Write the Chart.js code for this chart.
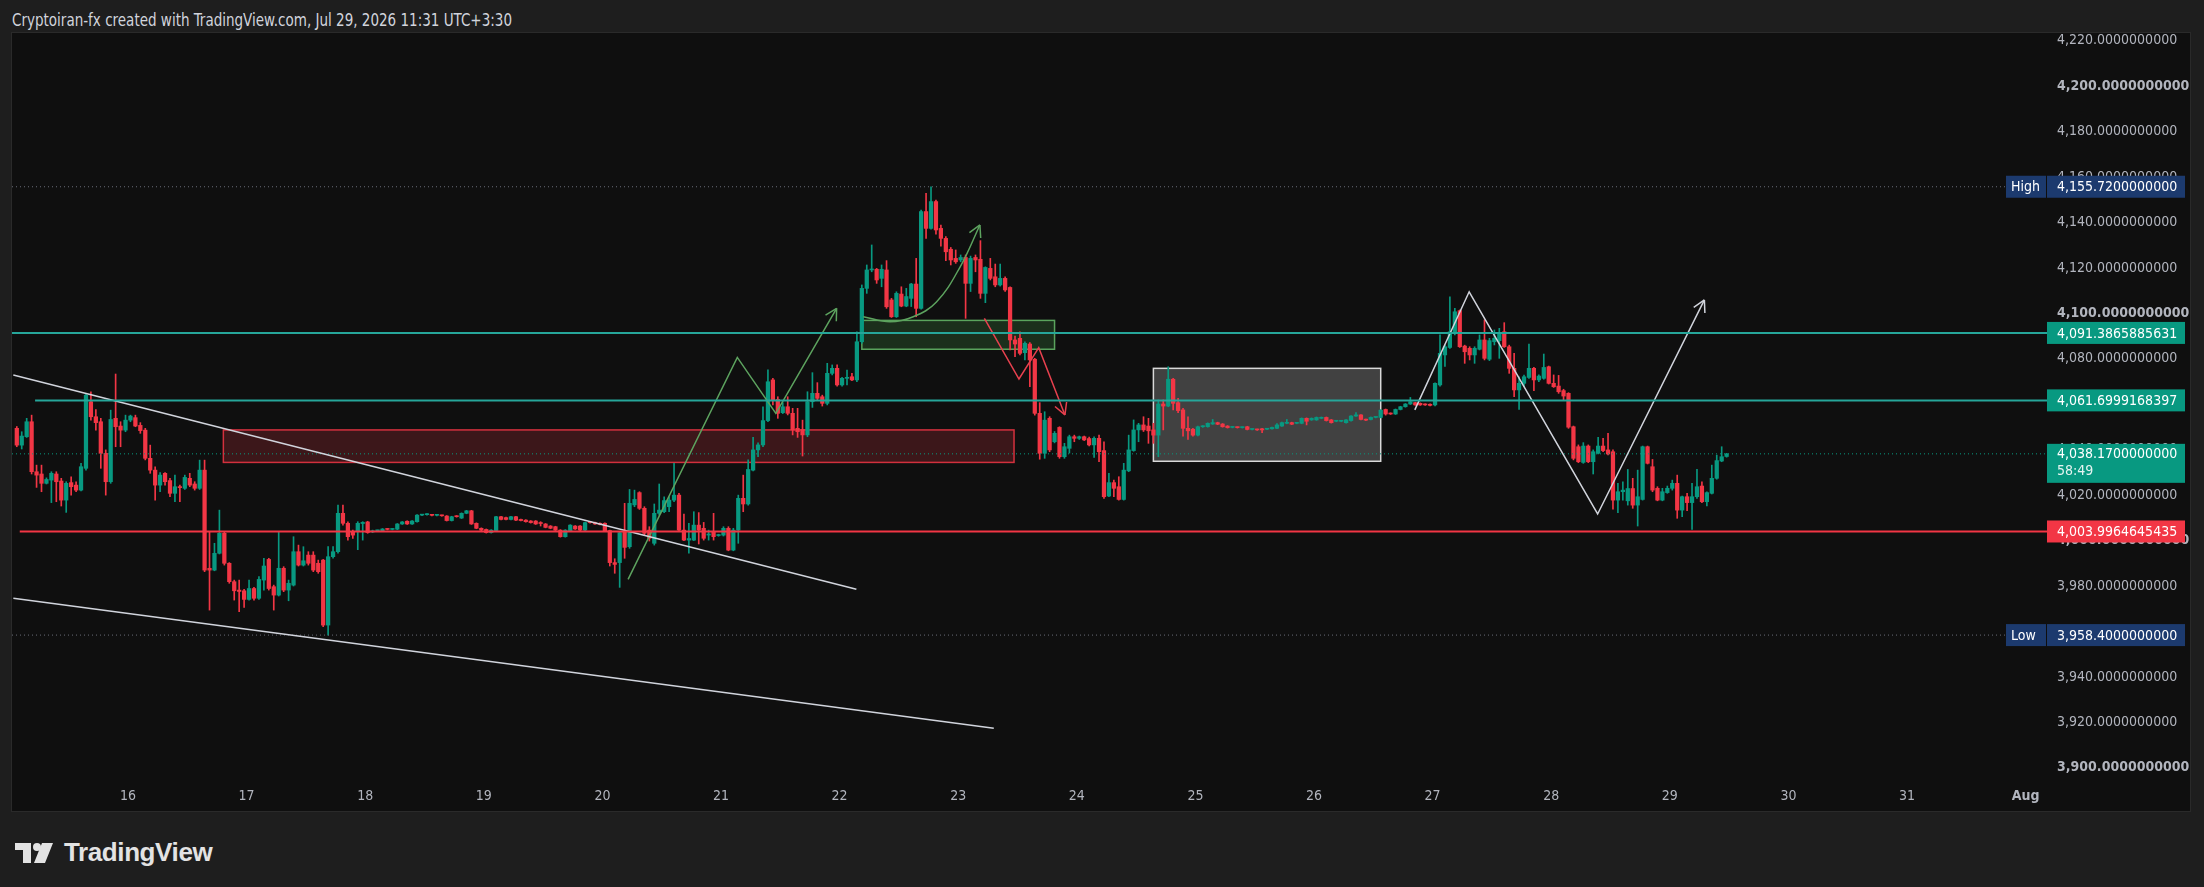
<!DOCTYPE html>
<html>
<head>
<meta charset="utf-8">
<script src="https://cdn.jsdelivr.net/npm/chart.js@4.4.1/dist/chart.umd.min.js"></script>
<style>
html, body { margin: 0; padding: 0; width: 2204px; height: 887px; overflow: hidden; background: #1e1e1e; }
#header { position: absolute; left: 12px; top: 9px; font: 17px "DejaVu Sans Condensed", "Liberation Sans", sans-serif; line-height: 22px; color: #d1d4dc; white-space: nowrap; transform-origin: 0 50%; }
#panel { position: absolute; left: 11px; top: 32px; width: 2178px; height: 778px; border: 1px solid #2a2a2a; background: #0f0f0f; }
#chart { display: block; width: 2178px; height: 778px; }
#logo { position: absolute; left: 15px; top: 837px; display: flex; align-items: center; color: #e3e3e3; font: bold 26px "Liberation Sans", sans-serif; letter-spacing: -0.4px; }
#logo svg { margin-right: 11px; }
</style>
</head>
<body>
<div id="header">Cryptoiran-fx created with TradingView.com, Jul 29, 2026 11:31 UTC+3:30</div>
<div id="panel"><canvas id="chart" width="2178" height="778"></canvas></div>
<div id="logo">
  <svg width="38" height="20" viewBox="0 0 38 20"><path d="M0 0H16V20H8V7H0Z" fill="#e3e3e3"/><circle cx="22" cy="4" r="4" fill="#e3e3e3"/><path d="M27 0H38L30 20H19Z" fill="#e3e3e3"/></svg>
  <span>TradingView</span>
</div>
<script>
// hourly candles, the first one opens Jul 15 01:30 (hours counted from Jul 16 00:00)
const firstCandleHour = -22.5

const opens = [
  4049.4,4042.0,4045.7,4052.3,4030.3,4029.3,4025.2,4026.6,4029.3,4026.2,
  4017.8,4025.5,4024.4,4022.2,4031.8,4061.1,4054.5,4052.3,4038.4,4025.9,
  4053.8,4050.4,4048.6,4053.0,4054.1,4050.7,4048.6,4036.2,4031.0,4024.4,
  4029.6,4026.4,4020.8,4023.7,4023.0,4027.4,4024.9,4023.0,4031.0,3987.8,
  3987.0,3994.4,4003.2,3990.0,3981.9,3978.2,3977.9,3974.1,3978.9,3974.6,
  3982.6,3991.7,3979.7,3976.0,3987.8,3978.2,3980.4,3995.1,3989.2,3993.6,
  3993.6,3990.0,3991.4,3962.8,3992.9,3995.1,4012.0,4007.6,4003.9,4003.9,
  4007.5,4008.2,4003.8,4004.3,4004.3,4005.1,4004.9,4005.0,4007.3,4008.5,
  4007.3,4008.3,4011.2,4011.4,4011.4,4011.1,4011.0,4010.8,4008.8,4010.8,
  4009.9,4012.0,4013.1,4007.6,4005.4,4004.9,4003.5,4004.4,4010.5,4010.1,
  4009.3,4010.5,4009.3,4009.0,4008.6,4008.6,4007.6,4007.3,4006.4,4006.1,
  4004.6,4001.7,4004.3,4006.4,4006.4,4004.6,4008.3,4007.9,4007.6,4007.6,
  4004.4,3990.3,3990.3,4003.9,3997.3,4015.7,4021.1,4014.2,4004.6,3998.8,
  4012.0,4012.7,4014.9,4017.8,4020.0,4004.6,4000.2,4000.2,4006.8,4005.4,
  4002.4,4003.9,4002.2,4002.4,4005.4,3995.8,4004.6,4018.6,4016.1,4031.0,
  4039.9,4042.1,4052.8,4070.7,4062.1,4056.3,4058.9,4056.0,4049.4,4048.9,
  4046.5,4061.1,4064.8,4063.3,4060.4,4073.6,4075.8,4068.5,4071.4,4072.1,
  4070.7,4087.5,4111.0,4119.1,4119.4,4115.4,4119.1,4105.9,4098.5,4108.5,
  4103.2,4106.6,4112.9,4102.2,4144.8,4137.4,4149.2,4137.4,4133.0,4128.2,
  4124.2,4123.5,4124.6,4113.2,4124.6,4123.8,4108.8,4119.8,4116.1,4112.5,
  4115.4,4111.4,4088.3,4089.0,4082.7,4086.5,4079.8,4056.0,4038.4,4053.8,
  4043.5,4049.8,4036.9,4040.6,4045.7,4045.0,4045.7,4044.9,4042.1,4045.0,
  4039.6,4019.6,4025.5,4023.7,4018.1,4030.7,4039.6,4048.7,4050.9,4050.4,
  4048.7,4046.4,4060.1,4059.2,4071.0,4060.7,4057.5,4049.4,4049.0,4046.4,
  4050.1,4050.1,4051.3,4051.9,4051.3,4050.4,4049.8,4049.8,4049.7,4050.1,
  4048.9,4048.9,4049.2,4049.0,4049.2,4049.4,4050.4,4051.6,4051.9,4051.6,
  4051.6,4053.8,4053.1,4053.1,4053.8,4054.2,4053.1,4052.5,4052.5,4051.9,
  4052.8,4054.8,4055.3,4053.3,4053.3,4054.2,4054.2,4057.7,4056.0,4055.7,
  4057.7,4058.9,4060.1,4060.7,4060.4,4060.0,4060.0,4059.7,4068.5,4081.7,
  4085.0,4091.2,4101.2,4085.6,4084.6,4081.7,4084.2,4088.3,4079.8,4087.5,
  4088.0,4091.9,4085.3,4075.8,4066.3,4069.2,4071.8,4075.8,4070.7,4071.4,
  4076.5,4069.2,4068.0,4066.0,4064.8,4050.1,4041.3,4034.4,4041.6,4034.7,
  4038.4,4041.6,4039.9,4039.1,4017.8,4021.5,4017.5,4022.9,4015.6,4018.1,
  4041.3,4032.5,4023.0,4017.8,4021.1,4023.0,4025.2,4013.4,4019.3,4016.7,
  4019.3,4024.0,4017.1,4020.8,4027.4,4035.0,4037.0
]
const highs = [
  4050.2,4047.9,4053.8,4055.2,4033.2,4033.2,4027.6,4030.3,4030.3,4027.4,
  4025.9,4028.1,4025.9,4034.0,4064.8,4065.5,4057.7,4053.8,4039.9,4057.4,
  4073.3,4052.3,4055.2,4055.2,4055.2,4051.9,4049.4,4042.0,4032.5,4029.9,
  4029.9,4027.4,4028.8,4024.4,4028.8,4029.6,4025.9,4035.4,4035.4,4003.9,
  3998.8,4013.4,4003.9,3990.3,3982.6,3982.6,3978.5,3982.6,3979.4,3984.1,
  3992.2,3992.2,3980.4,4003.9,3988.5,3982.6,4001.7,3998.0,3997.3,3995.1,
  3995.1,3991.4,3991.7,3997.3,3997.3,4015.6,4015.6,4008.3,4004.6,4008.3,
  4008.3,4008.5,4004.6,4004.6,4005.3,4005.3,4005.3,4007.5,4008.4,4008.7,
  4008.8,4011.4,4011.6,4011.9,4011.6,4011.3,4011.2,4011.0,4010.7,4011.0,
  4012.2,4013.3,4013.3,4007.8,4005.6,4005.1,4004.8,4010.7,4010.7,4010.3,
  4010.7,4010.7,4009.5,4009.2,4008.8,4008.8,4008.3,4007.5,4006.6,4006.3,
  4004.8,4004.8,4007.0,4006.6,4006.6,4008.1,4008.5,4008.1,4007.8,4007.8,
  4004.6,3992.0,4003.9,4016.4,4022.5,4022.2,4021.5,4014.9,4006.1,4016.1,
  4024.9,4019.3,4019.3,4034.0,4020.8,4011.7,4007.6,4012.7,4012.3,4008.0,
  4004.6,4012.0,4002.8,4006.1,4006.1,4005.4,4020.0,4028.8,4035.5,4045.4,
  4043.0,4058.9,4075.1,4071.4,4063.3,4060.7,4063.3,4058.2,4058.2,4053.0,
  4065.5,4073.9,4069.5,4064.0,4078.0,4077.3,4077.3,4071.8,4075.0,4073.6,
  4091.9,4112.5,4121.3,4130.1,4119.8,4121.3,4123.2,4106.6,4109.5,4111.7,
  4111.0,4113.2,4124.2,4145.5,4152.8,4155.7,4149.9,4138.9,4133.8,4129.0,
  4127.9,4125.7,4125.7,4125.2,4125.7,4132.0,4120.5,4124.2,4121.7,4121.7,
  4116.1,4111.7,4090.0,4091.9,4087.5,4087.1,4080.2,4060.7,4056.7,4054.5,
  4048.0,4050.1,4042.8,4046.4,4046.4,4046.0,4046.0,4045.5,4045.7,4046.4,
  4043.5,4029.6,4026.6,4028.1,4034.0,4046.4,4053.1,4051.6,4054.5,4053.8,
  4051.6,4061.9,4061.9,4076.5,4071.4,4062.6,4058.2,4054.5,4049.4,4050.4,
  4050.6,4051.8,4053.3,4052.1,4051.5,4050.6,4050.0,4050.0,4050.0,4050.3,
  4049.1,4049.1,4049.4,4049.4,4050.0,4051.5,4052.1,4053.3,4052.1,4051.8,
  4054.0,4054.0,4054.0,4054.4,4054.4,4054.4,4053.3,4052.7,4052.7,4053.3,
  4055.0,4056.3,4055.5,4053.5,4054.4,4054.4,4057.6,4057.9,4056.2,4057.9,
  4059.1,4060.3,4063.0,4060.9,4060.6,4060.2,4060.2,4069.4,4090.5,4086.0,
  4107.3,4102.2,4101.5,4086.0,4085.3,4085.3,4090.5,4097.1,4089.0,4092.7,
  4093.4,4095.9,4086.0,4082.4,4072.1,4072.8,4086.5,4076.2,4072.9,4082.1,
  4076.8,4072.9,4072.7,4066.6,4065.1,4050.4,4042.1,4043.1,4042.1,4039.9,
  4045.4,4045.0,4047.2,4039.9,4025.2,4025.9,4031.3,4027.4,4031.0,4041.6,
  4041.6,4035.7,4023.7,4023.0,4024.0,4026.6,4028.8,4019.6,4020.8,4025.2,
  4031.3,4025.9,4021.5,4033.2,4037.6,4041.3,4038.4
]
const lows = [
  4041.3,4040.3,4045.4,4029.3,4023.4,4021.5,4024.9,4016.7,4017.1,4015.2,
  4012.4,4020.0,4021.5,4021.9,4031.0,4053.0,4048.6,4031.8,4020.0,4025.2,
  4041.3,4041.3,4047.9,4052.3,4050.1,4047.2,4035.5,4029.6,4017.8,4021.5,
  4024.4,4019.3,4017.1,4017.1,4022.5,4023.7,4022.2,4022.5,3986.3,3969.4,
  3986.7,3994.1,3989.2,3981.2,3973.8,3968.7,3970.6,3973.8,3973.8,3974.1,
  3978.2,3978.2,3969.4,3975.6,3977.5,3973.5,3980.0,3988.8,3988.8,3989.2,
  3986.3,3985.6,3962.1,3958.4,3992.2,3994.4,4006.8,4000.2,4000.9,3996.0,
  4000.2,4003.2,4003.5,4004.0,4004.2,4004.7,4004.7,4004.8,4007.1,4007.1,
  4007.1,4008.1,4011.0,4011.2,4010.9,4010.9,4010.7,4008.6,4008.6,4010.3,
  4009.7,4011.8,4007.1,4005.2,4003.9,4003.3,4003.3,4004.2,4009.1,4009.1,
  4009.1,4008.8,4008.6,4008.1,4007.7,4007.1,4006.4,4005.6,4005.2,4004.4,
  4001.5,4001.5,4004.1,4004.9,4004.4,4004.4,4007.7,4007.1,4006.9,4004.1,
  3988.8,3985.6,3979.4,3992.2,3996.6,4014.9,4013.7,4002.4,3999.8,3998.0,
  4011.2,4012.3,4012.7,4017.1,4004.4,3999.9,3994.4,4000.0,3998.5,4000.2,
  4000.2,4000.2,4001.9,4002.0,3995.5,3995.5,3998.8,4012.7,4015.6,4030.7,
  4036.9,4041.3,4052.3,4059.7,4053.8,4055.9,4055.3,4046.5,4045.4,4037.2,
  4045.7,4058.6,4061.9,4059.2,4059.7,4072.9,4068.0,4068.0,4068.5,4070.4,
  4069.9,4086.8,4108.8,4118.3,4113.2,4111.7,4102.2,4098.2,4098.2,4102.9,
  4102.9,4103.0,4098.5,4101.8,4133.0,4137.0,4134.9,4129.6,4123.2,4121.3,
  4122.0,4122.7,4097.8,4109.6,4118.3,4106.6,4104.7,4114.7,4111.7,4112.0,
  4109.6,4083.9,4080.9,4081.7,4079.5,4067.7,4055.2,4035.8,4036.2,4039.1,
  4043.0,4036.2,4036.2,4038.5,4043.5,4044.5,4044.0,4041.7,4036.6,4034.7,
  4018.6,4019.3,4019.3,4017.8,4017.8,4030.3,4039.3,4043.5,4048.0,4042.8,
  4042.8,4036.9,4048.7,4058.9,4057.5,4056.3,4046.0,4044.5,4046.0,4046.1,
  4049.8,4049.9,4051.1,4051.0,4049.9,4049.5,4049.6,4049.5,4049.5,4048.7,
  4048.7,4048.5,4047.5,4048.8,4049.0,4049.2,4050.2,4051.4,4051.0,4051.4,
  4051.4,4050.9,4052.9,4052.9,4053.6,4052.6,4051.7,4052.3,4052.3,4051.7,
  4052.6,4054.6,4053.1,4052.8,4053.1,4054.0,4054.0,4055.2,4055.5,4055.5,
  4057.5,4058.7,4059.9,4059.5,4059.5,4059.5,4059.3,4059.3,4068.0,4076.6,
  4084.6,4090.5,4085.0,4078.0,4079.5,4078.0,4083.9,4079.5,4079.2,4086.1,
  4080.2,4085.0,4073.6,4063.3,4057.7,4067.7,4071.4,4066.0,4069.9,4071.0,
  4068.9,4067.4,4064.8,4061.9,4049.4,4035.5,4034.3,4034.0,4034.3,4029.3,
  4038.1,4039.1,4037.7,4013.8,4012.3,4017.8,4015.6,4014.2,4006.4,4017.8,
  4033.7,4021.5,4017.5,4017.5,4020.8,4022.2,4009.8,4010.5,4013.2,4004.9,
  4018.6,4016.7,4015.2,4020.5,4027.0,4034.7,4036.7
]
const closes = [
  4042.0,4046.0,4052.3,4030.3,4028.8,4025.2,4026.9,4029.6,4025.9,4017.8,
  4025.2,4023.7,4022.2,4032.5,4064.0,4054.5,4051.9,4038.4,4025.9,4053.3,
  4050.1,4048.6,4053.0,4054.8,4050.4,4048.4,4036.2,4031.0,4024.4,4028.8,
  4025.9,4020.8,4023.7,4023.3,4027.8,4024.4,4023.0,4031.0,3987.0,3987.0,
  3994.4,4003.2,3990.0,3981.9,3977.9,3977.6,3974.1,3978.9,3974.6,3982.9,
  3988.8,3978.9,3976.0,3987.8,3978.2,3981.2,3995.1,3989.2,3991.1,3990.0,
  3987.0,3986.3,3962.8,3992.9,3995.1,4012.0,4007.6,4001.7,4002.4,4007.6,
  4008.0,4003.5,4004.3,4004.3,4005.1,4004.9,4005.1,4007.3,4008.2,4007.3,
  4008.6,4011.2,4011.4,4011.7,4011.1,4011.1,4010.9,4008.8,4010.5,4010.5,
  4012.0,4013.1,4007.3,4005.4,4004.6,4003.5,4004.6,4010.5,4009.3,4009.3,
  4010.5,4009.0,4008.8,4008.3,4007.9,4007.3,4007.5,4005.8,4005.4,4004.6,
  4001.7,4004.6,4006.8,4005.1,4004.6,4007.9,4007.9,4007.3,4007.1,4004.3,
  3990.3,3989.5,4003.5,3997.0,4016.4,4018.1,4014.2,4003.2,4001.0,4012.0,
  4013.4,4017.6,4017.8,4020.0,4004.6,4000.2,4000.9,4006.8,4004.6,4001.0,
  4002.9,4001.7,4002.4,4005.4,3995.8,4004.6,4018.6,4016.1,4031.3,4039.9,
  4042.1,4052.8,4069.9,4061.9,4056.0,4058.9,4056.0,4048.7,4047.9,4046.5,
  4061.1,4064.8,4062.6,4060.4,4073.6,4075.8,4068.5,4071.4,4071.8,4070.7,
  4087.5,4111.0,4119.1,4119.5,4114.7,4119.4,4102.9,4098.5,4108.8,4103.2,
  4107.4,4112.9,4102.2,4144.8,4137.4,4149.2,4136.7,4133.0,4127.1,4123.5,
  4122.7,4124.6,4113.2,4124.2,4123.5,4108.8,4120.2,4115.4,4112.5,4115.4,
  4110.3,4088.3,4086.5,4082.4,4086.8,4079.5,4056.0,4038.4,4053.0,4039.9,
  4047.2,4036.9,4041.3,4045.7,4045.0,4045.7,4044.3,4042.1,4045.0,4039.1,
  4019.3,4025.5,4023.0,4018.1,4031.0,4039.9,4048.7,4050.9,4048.7,4048.3,
  4046.4,4060.1,4059.2,4071.0,4060.4,4057.2,4049.4,4048.3,4046.4,4050.1,
  4050.4,4051.6,4051.9,4051.2,4050.1,4049.7,4049.8,4049.7,4049.8,4048.9,
  4048.9,4048.7,4048.7,4049.2,4049.8,4050.9,4051.9,4051.9,4051.2,4051.6,
  4053.8,4052.5,4053.8,4054.2,4054.2,4052.8,4051.9,4052.5,4052.5,4053.1,
  4054.8,4055.3,4053.3,4053.0,4054.2,4054.2,4057.4,4055.7,4055.7,4057.7,
  4058.9,4060.1,4061.1,4059.7,4059.7,4059.7,4059.5,4069.2,4082.4,4085.3,
  4091.9,4100.7,4085.3,4083.1,4081.7,4084.6,4088.3,4080.2,4088.0,4089.0,
  4091.5,4085.3,4075.8,4066.3,4069.2,4072.1,4075.8,4070.7,4072.4,4076.2,
  4069.2,4067.7,4065.5,4063.6,4049.9,4036.2,4034.7,4041.6,4034.7,4039.1,
  4041.6,4039.6,4038.1,4017.8,4021.5,4022.2,4022.9,4015.6,4019.3,4041.3,
  4034.0,4022.2,4017.8,4021.5,4023.0,4025.2,4013.4,4019.3,4016.7,4019.3,
  4023.7,4017.1,4021.1,4027.4,4035.2,4036.9,4038.17
]

// axes
const dayTicks = [0, 24, 48, 72, 96, 120, 144, 168, 192, 216, 240, 264, 288, 312, 336, 360, 384]
const dayLabels = ['16', '17', '18', '19', '20', '21', '22', '23', '24', '25', '26', '27', '28', '29', '30', '31', 'Aug']
const priceTicks = [3900, 3920, 3940, 3960, 3980, 4000, 4020, 4040, 4060, 4080, 4100, 4120, 4140, 4160, 4180, 4200, 4220]

// price labels on the right scale
const highPrice = 4155.72
const lowPrice = 3958.40
const lastPrice = 4038.17
const countdown = '58:49'
const levelPrices = [4091.3865885631, 4061.6999168397, 4003.9964645435]
const levelStarts = [-23.5, -18.8, -21.9]

// drawings: [hour, price] points, zones as [fromHour, toHour, lowPrice, highPrice]
const upperTrend = [[-23.2, 4072.9], [147.4, 3978.6]]
const lowerTrend = [[-23.2, 3974.6], [175.2, 3917.4]]
const greenPath = [[101.2, 3982.9], [123.3, 4080.6], [131.1, 4056.0], [143.4, 4102.2]]
const greenCurve = [[148.8, 4098.5], [154.2, 4096.3], [158.9, 4098.5], [163.6, 4105.0], [168.4, 4120.5], [172.4, 4138.9]]
const redPath = [[173.3, 4097.8], [180.3, 4071.1], [184.3, 4084.9], [189.6, 4055.3]]
const whitePath = [[260.4, 4057.5], [271.4, 4109.5], [297.4, 4011.7], [319.0, 4105.9]]
const redZone = [19.3, 179.3, 4034.4, 4048.7]
const greenZone = [148.5, 187.5, 4084.2, 4096.9]
const rangeBox = [207.5, 253.5, 4034.9, 4075.8]

const xMin = -23.47
const xMax = 388.33
const yMin = 3895.5
const yMax = 4223.39
const statsLineEnd = 380

const font = '"DejaVu Sans Condensed", "Liberation Sans", Arial, sans-serif'
const green = '#089981'
const red = '#f23645'
const teal = '#26a69a'
const white = '#d1d4dc'
const arrowGreen = '#5da35f'
const navy = '#1c3a6e'
const fmt = new Intl.NumberFormat('en-US', { minimumFractionDigits: 10, maximumFractionDigits: 10 })

// the snapshot caption is about 500px wide: measure it and squeeze to fit
const header = document.getElementById('header')
const probe = document.createElement('canvas').getContext('2d')
probe.font = `17px ${font}`
header.style.transform = `scaleX(${500 / probe.measureText(header.textContent).width})`

const candleHours = opens.map((o, i) => firstCandleHour + i)
const candleColors = opens.map((o, i) => closes[i] >= o ? green : red)

const line = (points, color, width, extra) => Object.assign({
    type: 'line',
    data: points.map(p => ({ x: p[0], y: p[1] })),
    borderColor: color,
    borderWidth: width,
    pointRadius: 0,
    pointHoverRadius: 0,
    fill: false,
    tension: 0,
    order: 0
}, extra)

const datasets = [
    {
        data: candleHours.map((h, i) => ({ x: h, y: [lows[i], highs[i]] })),
        backgroundColor: candleColors, barThickness: 1, grouped: false, order: 10
    },
    {
        data: candleHours.map((h, i) => ({ x: h, y: [opens[i], closes[i]] })),
        backgroundColor: candleColors, barThickness: 3.6, minBarLength: 1, grouped: false, order: 9
    },
    line([[xMin, highPrice], [statsLineEnd, highPrice]], '#6a6d78', 1, { borderDash: [1, 3], order: 5 }),
    line([[xMin, lowPrice], [statsLineEnd, lowPrice]], '#6a6d78', 1, { borderDash: [1, 3], order: 5 }),
    line([[xMin, lastPrice], [xMax, lastPrice]], green, 1, { borderDash: [1, 3], order: 5 }),
    line([[levelStarts[0], levelPrices[0]], [xMax, levelPrices[0]]], teal, 2),
    line([[levelStarts[1], levelPrices[1]], [xMax, levelPrices[1]]], teal, 2),
    line([[levelStarts[2], levelPrices[2]], [xMax, levelPrices[2]]], red, 2),
    line(upperTrend, white, 1.5),
    line(lowerTrend, white, 1.5),
    line(greenPath, arrowGreen, 1.5, { arrowHead: true }),
    line(greenCurve, arrowGreen, 1.5, { arrowHead: true, tension: 0.4 }),
    line(redPath, '#e8414f', 1.5, { arrowHead: true }),
    line(whitePath, white, 1.5, { arrowHead: true })
]

const zonesPlugin = {
    id: 'zones',
    beforeDatasetsDraw(chart) {
        const { ctx, scales: { x, y } } = chart
        const zones = [
            { z: redZone, fill: 'rgba(242,54,69,0.2)', stroke: 'rgba(242,54,69,0.85)' },
            { z: greenZone, fill: 'rgba(76,175,80,0.2)', stroke: 'rgba(102,187,106,0.85)' },
            { z: rangeBox, fill: 'rgba(255,255,255,0.21)', stroke: '#d9d9d9' }
        ]
        ctx.save()
        zones.forEach(({ z, fill, stroke }) => {
            const left = x.getPixelForValue(z[0])
            const right = x.getPixelForValue(z[1])
            const top = y.getPixelForValue(z[3])
            const bottom = y.getPixelForValue(z[2])
            ctx.fillStyle = fill
            ctx.fillRect(left, top, right - left, bottom - top)
            ctx.strokeStyle = stroke
            ctx.lineWidth = 1.5
            ctx.strokeRect(left, top, right - left, bottom - top)
        })
        ctx.restore()
    }
}

const arrowPlugin = {
    id: 'arrows',
    afterDatasetsDraw(chart) {
        const ctx = chart.ctx
        chart.data.datasets.forEach((ds, i) => {
            if (!ds.arrowHead) return
            const pts = chart.getDatasetMeta(i).data
            const a = pts[pts.length - 2]
            const b = pts[pts.length - 1]
            const angle = Math.atan2(b.y - a.y, b.x - a.x)
            ctx.save()
            ctx.strokeStyle = ds.borderColor
            ctx.lineWidth = 1.5
            ctx.beginPath()
            ;[-0.5, 0.5].forEach(d => {
                ctx.moveTo(b.x, b.y)
                ctx.lineTo(b.x - 13 * Math.cos(angle + d), b.y - 13 * Math.sin(angle + d))
            })
            ctx.stroke()
            ctx.restore()
        })
    }
}

const badgePlugin = {
    id: 'badges',
    afterDraw(chart) {
        const { ctx, chartArea, scales: { y } } = chart
        const left = chartArea.right
        const badges = [
            { price: highPrice, bg: navy, tag: 'High' },
            { price: lowPrice, bg: navy, tag: 'Low' },
            { price: levelPrices[0], bg: green },
            { price: levelPrices[1], bg: green },
            { price: levelPrices[2], bg: red },
            { price: lastPrice, bg: green, sub: countdown }
        ]
        ctx.save()
        ctx.font = `14px ${font}`
        ctx.textBaseline = 'middle'
        badges.forEach(b => {
            const py = y.getPixelForValue(b.price)
            const top = b.sub ? py - 10 : py - 11
            const height = b.sub ? 39 : 22
            ctx.fillStyle = b.bg
            ctx.fillRect(left, top, 138, height)
            if (b.tag) {
                ctx.fillRect(left - 41, top, 40, height)
                ctx.fillStyle = '#ffffff'
                ctx.fillText(b.tag, left - 36, py + 1)
            }
            ctx.fillStyle = '#ffffff'
            ctx.fillText(fmt.format(b.price), left + 10, py + 1)
            if (b.sub) {
                ctx.fillStyle = '#e6f4f1'
                ctx.fillText(b.sub, left + 10, py + 18)
            }
        })
        ctx.restore()
    }
}

new Chart(document.getElementById('chart'), {
    type: 'bar',
    data: { datasets },
    options: {
        responsive: false,
        animation: false,
        events: [],
        layout: { padding: 0 },
        plugins: { legend: { display: false }, tooltip: { enabled: false } },
        scales: {
            x: {
                type: 'linear',
                min: xMin,
                max: xMax,
                offset: false,
                grid: { display: false, drawTicks: false },
                border: { display: false },
                afterBuildTicks: axis => { axis.ticks = dayTicks.map(v => ({ value: v })) },
                afterFit: axis => {
                    axis.height = 33
                    axis.paddingLeft = 0
                    axis.paddingRight = 0
                },
                ticks: {
                    autoSkip: false,
                    maxRotation: 0,
                    padding: 10,
                    color: '#b2b5be',
                    font: c => ({ family: font, size: 14, weight: dayLabels[c.index] === 'Aug' ? 'bold' : 'normal' }),
                    callback: v => dayLabels[dayTicks.indexOf(v)]
                }
            },
            y: {
                position: 'right',
                min: yMin,
                max: yMax,
                grid: { display: false, drawTicks: false },
                border: { display: false },
                afterBuildTicks: axis => { axis.ticks = priceTicks.map(v => ({ value: v })) },
                afterFit: axis => {
                    axis.width = 143
                    axis.paddingTop = 0
                    axis.paddingBottom = 0
                },
                ticks: {
                    autoSkip: false,
                    padding: 10,
                    color: '#b2b5be',
                    font: c => ({ family: font, size: 14, weight: c.tick && c.tick.value % 100 === 0 ? 'bold' : 'normal' }),
                    callback: v => fmt.format(v)
                }
            }
        }
    },
    plugins: [zonesPlugin, arrowPlugin, badgePlugin]
})
</script>
</body>
</html>
